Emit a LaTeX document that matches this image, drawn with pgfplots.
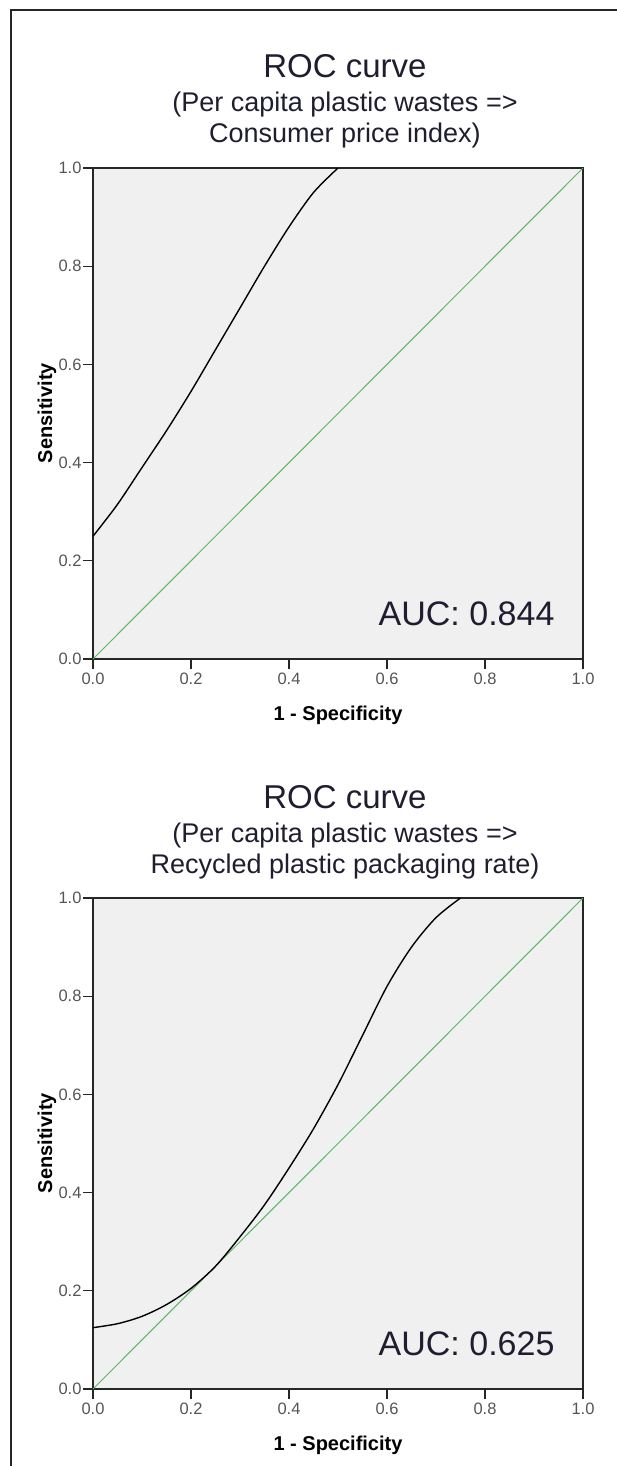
\documentclass[border=0pt]{standalone}
\usepackage{fontspec}
\setmainfont{Liberation Sans}
\usepackage{pgfplots}
\pgfplotsset{compat=1.18}
\definecolor{bgc}{HTML}{F0F0F0}
\definecolor{diag}{HTML}{5CB860}
\definecolor{txt}{HTML}{1E1E30}
\definecolor{tickc}{HTML}{555555}
\pgfplotsset{
  rocaxis/.style={
    width=490pt, height=491pt, scale only axis,
    xmin=0, xmax=1, ymin=0, ymax=1,
    axis background/.style={fill=bgc},
    axis line style={line width=1.4pt, black!85},
    xtick={0,0.2,...,1}, ytick={0,0.2,...,1},
    tick align=outside, major tick length=10pt,
    tick style={line width=1.2pt, black!85},
    xtick pos=bottom, ytick pos=left,
    tick label style={font=\fontsize{16.5}{16.5}\selectfont, text=tickc},
    yticklabel style={xshift=2pt},
    /pgf/number format/assume math mode=true,
    /pgf/number format/.cd, fixed, fixed zerofill, precision=1,
  },
}
\begin{document}
\begin{tikzpicture}[x=1pt,y=1pt]
\useasboundingbox (0,0) rectangle (617,-1466);
\draw[line width=2pt, black!85] (10.5,-1470) -- (10.5,-10) -- (617,-10);

% ---------- Plot 1 ----------
\node[anchor=base, text=txt, font=\fontsize{33}{33}\selectfont] at (345,-78) {ROC curve};
\node[anchor=base, text=txt, font=\fontsize{27}{27}\selectfont] at (345,-112) {(Per capita plastic wastes =>};
\node[anchor=base, text=txt, font=\fontsize{27}{27}\selectfont] at (345,-143) {Consumer price index)};
\begin{axis}[rocaxis, at={(93pt,-168pt)}, anchor=north west]
\addplot[diag, line width=1pt] coordinates {(0,0) (1,1)};
\addplot[black, line width=1.4pt, smooth] coordinates {
(0,0.25) (0.05,0.315) (0.1,0.39) (0.15,0.465) (0.2,0.545) (0.25,0.63)
(0.3,0.715) (0.35,0.80) (0.4,0.88) (0.45,0.95) (0.5,1.0)};
\node[anchor=base east, text=txt, font=\fontsize{34}{34}\selectfont] at (axis cs:0.949,0.069) {AUC: 0.844};
\end{axis}
\node[anchor=base, font=\bfseries\fontsize{20}{20}\selectfont] at (338,-720) {1 - Specificity};
\node[anchor=base, rotate=90, font=\bfseries\fontsize{20}{20}\selectfont] at (52,-413) {Sensitivity};

% ---------- Plot 2 ----------
\node[anchor=base, text=txt, font=\fontsize{33}{33}\selectfont] at (345,-808) {ROC curve};
\node[anchor=base, text=txt, font=\fontsize{27}{27}\selectfont] at (345,-842) {(Per capita plastic wastes =>};
\node[anchor=base, text=txt, font=\fontsize{27}{27}\selectfont] at (345,-873) {Recycled plastic packaging rate)};
\begin{axis}[rocaxis, at={(93pt,-898pt)}, anchor=north west]
\addplot[diag, line width=1pt] coordinates {(0,0) (1,1)};
\addplot[black, line width=1.4pt, smooth] coordinates {
(0,0.125) (0.05,0.133) (0.1,0.148) (0.15,0.172) (0.2,0.205) (0.25,0.25)
(0.3,0.31) (0.35,0.375) (0.4,0.45) (0.45,0.53) (0.5,0.62) (0.55,0.72)
(0.6,0.82) (0.65,0.9) (0.7,0.96) (0.75,1.0)};
\node[anchor=base east, text=txt, font=\fontsize{34}{34}\selectfont] at (axis cs:0.949,0.069) {AUC: 0.625};
\end{axis}
\node[anchor=base, font=\bfseries\fontsize{20}{20}\selectfont] at (338,-1450) {1 - Specificity};
\node[anchor=base, rotate=90, font=\bfseries\fontsize{20}{20}\selectfont] at (52,-1143) {Sensitivity};
\end{tikzpicture}
\end{document}
